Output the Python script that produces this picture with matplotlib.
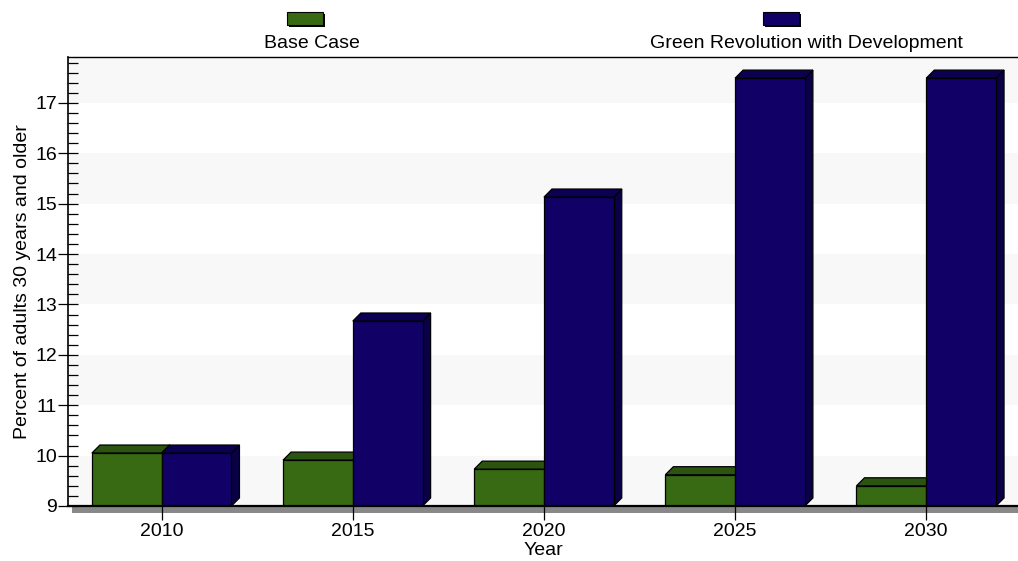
import matplotlib
matplotlib.use("Agg")
import matplotlib.pyplot as plt
from matplotlib.patches import Polygon, Rectangle
from matplotlib.ticker import MultipleLocator

plt.rcParams['font.family'] = ['Liberation Sans', 'DejaVu Sans']

# Data
years = ["2010", "2015", "2020", "2025", "2030"]
base_case = [10.05, 9.91, 9.73, 9.62, 9.40]
green_rev = [10.05, 12.67, 15.13, 17.49, 17.49]
series_names = ["Base Case", "Green Revolution with Development"]

# Colours: front, top, side faces
GREEN = ("#386a14", "#2b5410", "#254a0d")
NAVY = ("#110066", "#0c0052", "#0a0048")

W = 0.365             # bar width (data units)
DX, DY = 0.042, 0.16  # 3D depth offset (data units)
Y0 = 9.0
FS = 14

fig = plt.figure(figsize=(10.18, 5.61), dpi=100)
ax = fig.add_axes([68 / 1018, 1 - 506 / 561, 950 / 1018, 449 / 561])
ax.set_xlim(-0.49, 4.48)
ax.set_ylim(Y0, 17.91)

# Alternating background bands
for lo in range(9, 18, 2):
    ax.axhspan(lo, lo + 1, color="#f8f8f8", zorder=0, lw=0)


def bar3d(x0, h, cols):
    x1 = x0 + W
    front = Rectangle((x0, Y0), W, h - Y0, facecolor=cols[0],
                      edgecolor="black", lw=0.9, zorder=3)
    top = Polygon([(x0, h), (x0 + DX, h + DY), (x1 + DX, h + DY), (x1, h)],
                  closed=True, facecolor=cols[1], edgecolor="black",
                  lw=0.9, zorder=3)
    side = Polygon([(x1, Y0), (x1 + DX, Y0 + DY), (x1 + DX, h + DY), (x1, h)],
                   closed=True, facecolor=cols[2], edgecolor="black",
                   lw=0.9, zorder=3)
    for p in (side, top, front):
        ax.add_patch(p)


for i, (b, g) in enumerate(zip(base_case, green_rev)):
    bar3d(i - W, b, GREEN)
    bar3d(i, g, NAVY)

# Floor shadow below the x axis
ax.add_patch(Rectangle((4 / 950, -7 / 449), 1, 7 / 449, transform=ax.transAxes,
                       facecolor="#888888", edgecolor="none", clip_on=False,
                       zorder=1))

# Axes styling
ax.spines["right"].set_visible(False)
ax.spines["top"].set_linewidth(1.0)
ax.spines["left"].set_linewidth(1.2)
ax.spines["bottom"].set_linewidth(1.6)
for s in ax.spines.values():
    s.set_zorder(5)

ax.set_xticks(range(len(years)))
ax.set_xticklabels(years, fontsize=FS)
ax.tick_params(axis="x", direction="out", length=10, width=0.9, pad=2)

ax.yaxis.set_major_locator(MultipleLocator(1))
ax.yaxis.set_minor_locator(MultipleLocator(0.2))
ax.tick_params(axis="y", which="major", direction="inout", length=14,
               width=0.9, labelsize=FS, pad=1)
ax.tick_params(axis="y", which="minor", direction="in", length=7, width=0.9)

ax.set_xlabel("Year", fontsize=FS, labelpad=2)
ax.set_ylabel("Percent of adults 30 years and older", fontsize=FS, labelpad=3)

# Legend drawn above the plot
legend_items = [
    (series_names[0], GREEN, 287, 312),
    (series_names[1], NAVY, 763, 806),
]
for label, cols, px, tx in legend_items:
    pw, ph = 36, 13
    fig.patches.append(Rectangle(((px + 2) / 1018, 1 - (12 + ph + 2) / 561),
                                 pw / 1018, ph / 561, transform=fig.transFigure,
                                 facecolor="black", edgecolor="none"))
    fig.patches.append(Rectangle((px / 1018, 1 - (12 + ph) / 561),
                                 pw / 1018, ph / 561, transform=fig.transFigure,
                                 facecolor=cols[0], edgecolor="black", lw=0.8))
    fig.text(tx / 1018, 1 - 44 / 561, label, ha="center", va="center",
             fontsize=FS)

fig.savefig("out.png", dpi=100)
